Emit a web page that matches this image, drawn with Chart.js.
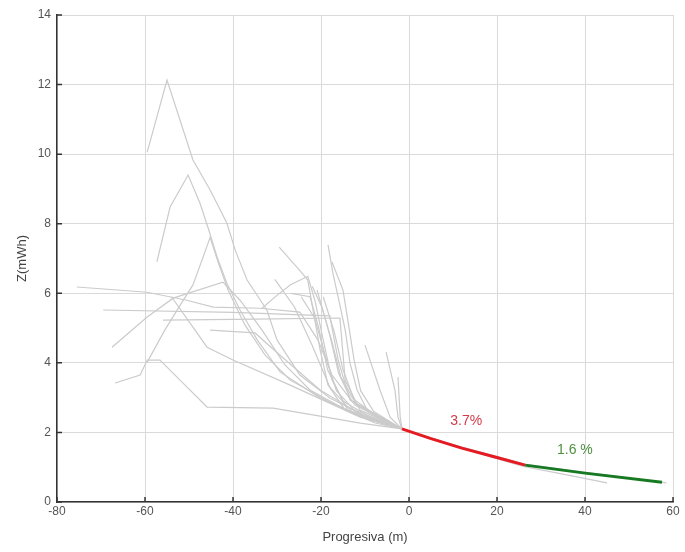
<!DOCTYPE html>
<html>
<head>
<meta charset="utf-8">
<script src="https://cdn.jsdelivr.net/npm/chart.js@4.4.1/dist/chart.umd.min.js"></script>
<style>
  html, body { margin: 0; padding: 0; background: #fff; }
  canvas { display: block; }
</style>
</head>
<body>
<canvas id="grafico" width="685" height="552"></canvas>
<script>
// ejes
const ticksX = [-80, -60, -40, -20, 0, 20, 40, 60];
const ticksY = [0, 2, 4, 6, 8, 10, 12, 14];

// perfiles existentes (progresiva m, cota)
const perfiles = [
  [[-59.5, 10.06], [-55.0, 12.13], [-49.1, 9.83], [-45.2, 8.97], [-41.4, 8.02], [-39.5, 7.24], [-36.8, 6.38], [-32.3, 5.52], [-30.0, 4.66], [-24.8, 3.65], [-18.0, 2.99], [-8.9, 2.41], [-1.6, 2.10]],
  [[-57.3, 6.90], [-54.3, 8.48], [-50.2, 9.40], [-47.5, 8.59], [-45.7, 7.90], [-43.6, 7.04], [-41.4, 6.29], [-38.4, 5.52], [-34.5, 4.66], [-29.3, 3.74], [-20.2, 2.99], [-10.0, 2.41], [-1.6, 2.10]],
  [[-59.5, 4.02], [-55.5, 4.94], [-52.0, 5.66], [-49.1, 6.24], [-46.8, 7.04], [-45.2, 7.61], [-43.4, 6.90], [-41.1, 6.09], [-37.3, 5.09], [-32.7, 4.22], [-27.0, 3.51], [-18.0, 2.87], [-8.9, 2.36], [-1.6, 2.10]],
  [[-66.8, 3.42], [-61.1, 3.65], [-59.5, 4.08], [-56.6, 4.08], [-50.9, 3.36], [-45.9, 2.73], [-30.9, 2.70], [-20.2, 2.47], [-11.1, 2.27], [-1.6, 2.10]],
  [[-75.5, 6.18], [-59.5, 6.03], [-50.5, 5.80], [-44.5, 5.60], [-33.9, 5.57], [-24.8, 5.46], [-20.7, 4.66], [-17.5, 3.65], [-12.3, 2.79], [-1.6, 2.10]],
  [[-69.5, 5.52], [-40.0, 5.45], [-18.0, 5.35], [-16.1, 4.08], [-13.4, 2.93], [-1.6, 2.10]],
  [[-55.9, 5.23], [-35.0, 5.26], [-15.7, 5.29], [-14.5, 3.50], [-11.1, 2.64], [-1.6, 2.10]],
  [[-45.2, 4.94], [-35.0, 4.86], [-29.3, 4.22], [-20.2, 3.22], [-11.1, 2.53], [-1.6, 2.10]],
  [[-67.5, 4.45], [-59.5, 5.32], [-53.6, 5.86], [-42.3, 6.32], [-38.4, 5.80], [-33.4, 4.94], [-28.2, 3.94], [-22.5, 3.22], [-13.4, 2.59], [-1.6, 2.10]],
  [[-29.5, 7.33], [-24.3, 6.58], [-23.0, 6.38], [-21.8, 5.52], [-20.2, 4.37], [-18.4, 3.36], [-14.5, 2.64], [-7.7, 2.27], [-1.6, 2.10]],
  [[-33.4, 5.57], [-30.5, 5.89], [-27.0, 6.24], [-23.0, 6.49], [-21.4, 5.80], [-19.5, 4.66], [-17.5, 3.51], [-13.9, 2.64], [-1.6, 2.10]],
  [[-18.4, 7.39], [-17.3, 6.58], [-16.1, 5.89], [-14.5, 4.94], [-13.4, 3.99], [-11.8, 3.22], [-9.5, 2.64], [-4.3, 2.27], [-1.6, 2.10]],
  [[-17.5, 6.90], [-15.0, 6.09], [-13.9, 5.23], [-12.5, 4.10], [-11.0, 3.20], [-8.0, 2.60], [-1.6, 2.10]],
  [[-10.0, 4.51], [-6.6, 3.22], [-4.3, 2.44], [-1.6, 2.10]],
  [[-5.2, 4.31], [-3.2, 3.22], [-2.5, 2.44], [-1.6, 2.10]],
  [[-2.5, 3.59], [-2.0, 2.44], [-1.6, 2.10]],
  [[-26.8, 6.00], [-22.5, 5.90], [-20.5, 5.00], [-18.5, 3.80], [-15.0, 2.90], [-9.0, 2.45], [-1.6, 2.10]],
  [[-22.0, 6.20], [-19.8, 5.60], [-17.5, 4.60], [-15.5, 3.60], [-12.0, 2.80], [-6.0, 2.35], [-1.6, 2.10]],
  [[-20.9, 6.10], [-18.0, 4.80], [-16.0, 3.70], [-13.0, 2.90], [-1.6, 2.10]],
  [[-24.5, 5.90], [-21.5, 5.30], [-19.0, 4.20], [-16.5, 3.20], [-12.5, 2.65], [-1.6, 2.10]],
  [[-19.5, 5.90], [-17.0, 4.90], [-15.0, 3.80], [-12.5, 2.95], [-7.0, 2.45], [-1.6, 2.10]],
  [[-30.5, 6.40], [-26.0, 5.60], [-22.0, 4.50], [-18.0, 3.30], [-13.0, 2.60], [-1.6, 2.10]],
  [[-54.0, 5.90], [-49.1, 5.03], [-45.9, 4.45], [-40.0, 4.08], [-27.0, 3.36], [-11.1, 2.44], [-1.6, 2.10]],
  [[-1.6, 2.10], [8.0, 1.72], [18.0, 1.32], [26.0, 1.02], [35.0, 0.80], [45.0, 0.55]],
  [[-1.6, 2.10], [10.0, 1.65], [26.4, 1.08], [40.0, 0.85], [58.5, 0.55]],
];

// rasante proyectada en dos tramos
const tramo1 = [[-1.6, 2.10], [5.0, 1.82], [12.0, 1.55], [20.0, 1.28], [26.4, 1.06]];
const tramo2 = [[26.4, 1.06], [40.0, 0.83], [57.5, 0.57]];
const pendientes = ['3.7%', '1.6 %'];
const pendientesX = [13.0, 37.7];
const pendientesY = [2.33, 1.49];

const aXY = (pts) => pts.map(([x, y]) => ({ x, y }));

const datasets = [
  { data: aXY(tramo1), borderColor: '#e41b23', borderWidth: 3, order: 0 },
  { data: aXY(tramo2), borderColor: '#177a22', borderWidth: 3, order: 0 },
  ...perfiles.map(p => ({ data: aXY(p), borderColor: '#cbcbcb', borderWidth: 1.2, order: 1 })),
];

// marcas de eje hacia adentro y textos de pendiente
const marcas = {
  id: 'marcas',
  afterDatasetsDraw(chart) {
    const { ctx, chartArea: a, scales: { x, y } } = chart;
    ctx.save();
    ctx.font = '14px "Liberation Sans", Arial, sans-serif';
    ctx.textAlign = 'center';
    ctx.textBaseline = 'middle';
    const colores = ['#d23a48', '#4e9040'];
    pendientes.forEach((t, i) => {
      ctx.fillStyle = colores[i];
      ctx.fillText(t, x.getPixelForValue(pendientesX[i]), y.getPixelForValue(pendientesY[i]));
    });
    ctx.strokeStyle = '#333';
    ctx.lineWidth = 1.5;
    ctx.beginPath();
    x.ticks.forEach(t => { const px = x.getPixelForValue(t.value); ctx.moveTo(px, a.bottom); ctx.lineTo(px, a.bottom - 5); });
    y.ticks.forEach(t => { const py = y.getPixelForValue(t.value); ctx.moveTo(a.left, py); ctx.lineTo(a.left + 5, py); });
    ctx.stroke();
    ctx.restore();
  }
};

const fuente = { family: '"Liberation Sans", Arial, sans-serif', size: 12 };

new Chart(document.getElementById('grafico'), {
  type: 'line',
  data: { datasets },
  plugins: [marcas],
  options: {
    responsive: false,
    animation: false,
    layout: { padding: { top: 15, right: 12, left: 0, bottom: 0 } },
    elements: { point: { radius: 0 }, line: { tension: 0 } },
    plugins: { legend: { display: false }, tooltip: { enabled: false } },
    scales: {
      x: {
        type: 'linear', min: -80, max: 60,
        afterBuildTicks: s => { s.ticks = ticksX.map(v => ({ value: v })); },
        afterFit: s => { s.height = 50; },
        ticks: { color: '#555', font: fuente, padding: 2, maxRotation: 0 },
        grid: { color: '#dadada', drawTicks: false },
        border: { color: '#333', width: 1.5 },
        title: { display: true, text: 'Progresiva (m)', color: '#444', font: { ...fuente, size: 13 }, padding: { top: 0, bottom: 7 } },
      },
      y: {
        type: 'linear', min: 0, max: 14,
        afterBuildTicks: s => { s.ticks = ticksY.map(v => ({ value: v })); },
        afterFit: s => { s.width = 57; },
        ticks: { color: '#555', font: fuente, padding: 6 },
        grid: { color: '#dadada', drawTicks: false },
        border: { color: '#333', width: 1.5 },
        title: { display: true, text: 'Z(mWh)', color: '#444', font: { ...fuente, size: 13 }, padding: { top: 15, bottom: 0 } },
      },
    },
  },
});
</script>
</body>
</html>
